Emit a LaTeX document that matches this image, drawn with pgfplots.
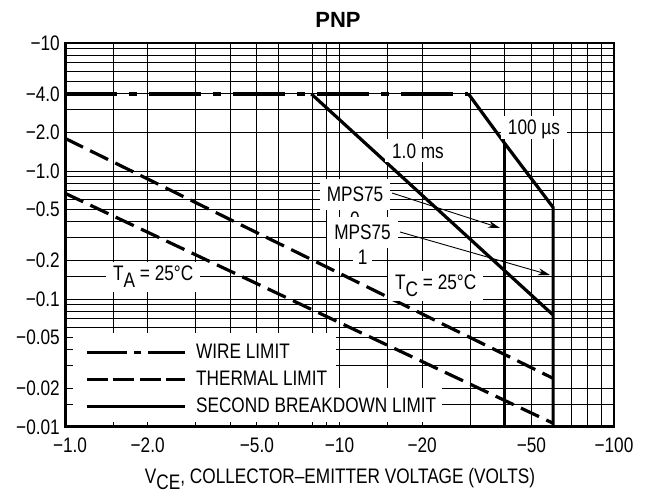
\documentclass[border=0pt]{standalone}
\usepackage{fontspec}
\setmainfont{Liberation Sans}[FakeStretch=0.82]
\newfontfamily\titlefont{Liberation Sans}[BoldFont={Liberation Sans Bold}]
\usepackage{pgfplots}
\pgfplotsset{compat=1.18}
\usetikzlibrary{arrows.meta}
\newcommand{\lbl}{\fontsize{21bp}{21bp}\selectfont}
\newcommand{\sub}[1]{\raisebox{-6.5bp}{#1}}
\begin{document}
\begin{tikzpicture}
\path[use as bounding box] (0bp,0bp) rectangle (652bp,494bp);
\begin{axis}[
  at={(65bp,67bp)}, anchor=south west, scale only axis,
  width=549bp, height=384bp,
  xmode=log, ymode=log,
  xmin=1, xmax=100, ymin=0.01, ymax=10,
  xtick={1,2,5,10,20,50,100},
  xticklabels={\hspace*{10bp}−1.0,−2.0,−5.0,−10,−20,−50,−100},
  minor xtick={1.5,3,4,6,8,9,15,30,40,60,70,80,90},
  ytick={0.01,0.02,0.05,0.1,0.2,0.5,1,2,4,10},
  yticklabels={−0.01,−0.02,−0.05,−0.1,−0.2,−0.5,−1.0,−2.0,−4.0,−10},
  minor ytick={0.015,0.03,0.04,0.06,0.07,0.08,0.09,0.15,0.3,0.4,0.6,0.7,0.8,0.9,3,5,6,7,8,9},
  grid=both,
  major grid style={black, line width=1bp},
  minor grid style={black, line width=1bp},
  major tick length=0pt, minor tick length=0pt,
  axis line style={line width=1.2bp},
  tick label style={font=\lbl},
  xticklabel style={anchor=base, yshift=-25bp, inner sep=0pt},
  yticklabel style={anchor=east, xshift=-5bp, inner sep=0pt},
  legend cell align=left,
  legend style={at={(rel axis cs:0.0364,0.2161)}, anchor=north west,
    draw=none, fill=none, inner sep=0pt, row sep=11bp, column sep=9.7bp,
    font=\lbl, nodes={inner sep=0pt}},
  legend image code/.code={\draw[#1] (0bp,0bp) -- (98bp,0bp);},
]
% white areas behind legend
\fill[white] (rel axis cs:0.0146,0.013) rectangle (rel axis cs:0.4927,0.2448);
\fill[white] (rel axis cs:0.4927,0.013) rectangle (rel axis cs:0.6867,0.1016);

% wire limit
\addplot[black, line width=3.2bp, dash pattern=on 52bp off 12bp on 8bp off 12bp,
  legend image post style={dash pattern=on 40bp off 7bp on 7bp off 7bp}]
  coordinates {(1,4) (29.5,4)};
\addlegendentry{WIRE LIMIT}
% thermal limits
\addplot[black, line width=3.2bp, dash pattern=on 20bp off 8bp,
  legend image post style={dash pattern=on 21bp off 5.5bp}]
  coordinates {(1,1.8) (60,0.024)};
\addlegendentry{THERMAL LIMIT}
\addplot[black, line width=3.2bp, dash pattern=on 20bp off 8bp, forget plot]
  coordinates {(1,0.67) (60,0.0107)};
% second breakdown limits
\addplot[black, line width=3.2bp]
  coordinates {(7.9,4) (60,0.075)};
\addlegendentry{SECOND BREAKDOWN LIMIT}
\addplot[black, line width=3.2bp, forget plot]
  coordinates {(29.5,4) (40,1.64) (60,0.52) (60,0.01)};
\addplot[black, line width=3.2bp, forget plot]
  coordinates {(40,1.64) (40,0.01)};
% thick left and bottom axis lines
\draw[line width=3.3bp, line cap=rect] (rel axis cs:0,1) -- (rel axis cs:0,0) -- (rel axis cs:1,0);
\end{axis}

% annotations
\begin{scope}[every node/.style={font=\lbl, fill=white, inner xsep=7bp, inner ysep=4bp, text height=15bp, text depth=0bp}]
\node[anchor=base] at (534bp,359bp) {100 µs};
\node[anchor=base] at (418bp,335.7bp) {1.0 ms};
\node[anchor=base, inner ysep=8bp] at (355bp,292.3bp) {MPS75};
\node[anchor=base, fill=none] at (355bp,267bp) {0};
\node[anchor=base, inner ysep=8bp] at (362.5bp,254bp) {MPS75};
\node[anchor=base, inner xsep=5bp, inner ysep=3bp] at (362.7bp,229bp) {1};
\node[anchor=base west, text depth=7bp] at (388bp,204bp) {T\sub{C} = 25°C};
\node[anchor=base west, text depth=7bp] at (106bp,213bp) {T\sub{A} = 25°C};
\end{scope}
\draw[line width=0.9bp, -{Stealth[length=12bp,width=7bp]}] (392bp,301bp) -- (500bp,266bp);
\draw[line width=0.9bp, -{Stealth[length=12bp,width=7bp]}] (400bp,262bp) -- (550bp,219bp);

\node[anchor=base, font=\titlefont\bfseries\fontsize{22bp}{22bp}\selectfont, inner sep=0pt] at (338bp,466bp) {PNP};
\node[anchor=base, font=\lbl, inner sep=0pt] at (340bp,11bp) {V\sub{CE}, COLLECTOR–EMITTER VOLTAGE (VOLTS)};
\end{tikzpicture}
\end{document}
